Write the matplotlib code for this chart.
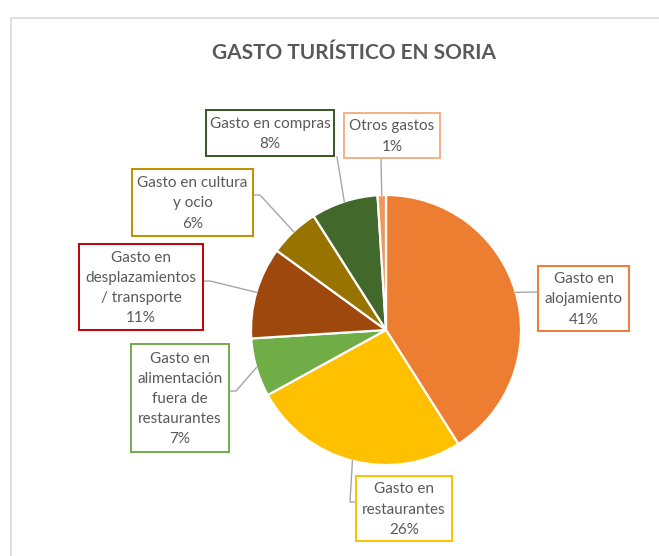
import matplotlib
matplotlib.use("Agg")
import matplotlib.pyplot as plt
from matplotlib.patches import Rectangle
import numpy as np

# ---- data ----
categories = ["Gasto en\nalojamiento", "Gasto en\nrestaurantes",
              "Gasto en\nalimentación\nfuera de\nrestaurantes",
              "Gasto en\ndesplazamientos\n/ transporte",
              "Gasto en cultura\ny ocio", "Gasto en compras", "Otros gastos"]
values = [41, 26, 7, 11, 6, 8, 1]
pct_labels = ["41%", "26%", "7%", "11%", "6%", "8%", "1%"]
colors = ["#ED7D31", "#FFC000", "#70AD47", "#9E480E", "#997300", "#43682B", "#F1975A"]
border_colors = ["#ED7D31", "#FFC000", "#70AD47", "#C00000", "#BF9000", "#375623", "#F4B183"]
title = "GASTO TURÍSTICO EN SORIA"

# ---- layout (figure pixels, origin top-left) ----
W, H = 659, 556
cx, cy, R = 386, 330, 135
# box: (x0, y0, x1, y1)
boxes = [(538, 266, 629, 331), (356, 476, 452, 541), (131, 344, 229, 452),
         (79, 244, 203, 330), (132, 169, 253, 236), (206, 110, 334, 156),
         (344, 113, 440, 158)]
# leader start (on box) and elbow points
leaders = [[(538, 292)], [(356, 502), (350, 502)], [(229, 391), (236, 391)],
           [(203, 281), (210, 281)], [(253, 195), (260, 195)], [(337, 157)],
           [(381, 158)]]

fig = plt.figure(figsize=(W / 100, H / 100), dpi=100)
fig.patch.set_facecolor("white")

ax = fig.add_axes([(cx - R) / W, (H - cy - R) / H, 2 * R / W, 2 * R / H])
wedges, _ = ax.pie(values, colors=colors, startangle=90, counterclock=False,
                   wedgeprops=dict(edgecolor="white", linewidth=1.6))
ax.set_xlim(-1, 1)
ax.set_ylim(-1, 1)
ax.set_aspect("equal")

ov = fig.add_axes([0, 0, 1, 1], zorder=-1)
ov.set_xlim(0, W)
ov.set_ylim(H, 0)
ov.axis("off")
ov.patch.set_alpha(0)

ov2 = fig.add_axes([0, 0, 1, 1], zorder=5)
ov2.set_xlim(0, W)
ov2.set_ylim(H, 0)
ov2.axis("off")
ov2.patch.set_alpha(0)

# chart frame
ov.plot([10.5, 10.5, W], [H, 17.5, 17.5], color="#D9D9D9", lw=1.2, solid_capstyle="butt")

ov2.text(354, 53, title, ha="center", va="center", fontsize=15,
         fontweight="bold", color="#595959", family="Lato")

for i, w in enumerate(wedges):
    mid = np.deg2rad((w.theta1 + w.theta2) / 2)
    px, py = ax.transData.transform((np.cos(mid), np.sin(mid)))
    ex, ey = px, H - py
    pts = leaders[i] + [(ex, ey)]
    ov2.plot([p[0] for p in pts], [p[1] for p in pts], color="#A6A6A6", lw=1.0, zorder=1)
    x0, y0, x1, y1 = boxes[i]
    ov2.add_patch(Rectangle((x0, y0), x1 - x0, y1 - y0, facecolor="white",
                            edgecolor=border_colors[i], lw=1.4, zorder=2))
    ov2.text((x0 + x1) / 2, (y0 + y1) / 2 + 1, categories[i] + "\n" + pct_labels[i],
             ha="center", va="center", fontsize=11, color="#595959",
             family="Lato", linespacing=1.55, zorder=3)

fig.savefig("out.png", dpi=100, facecolor="white")
